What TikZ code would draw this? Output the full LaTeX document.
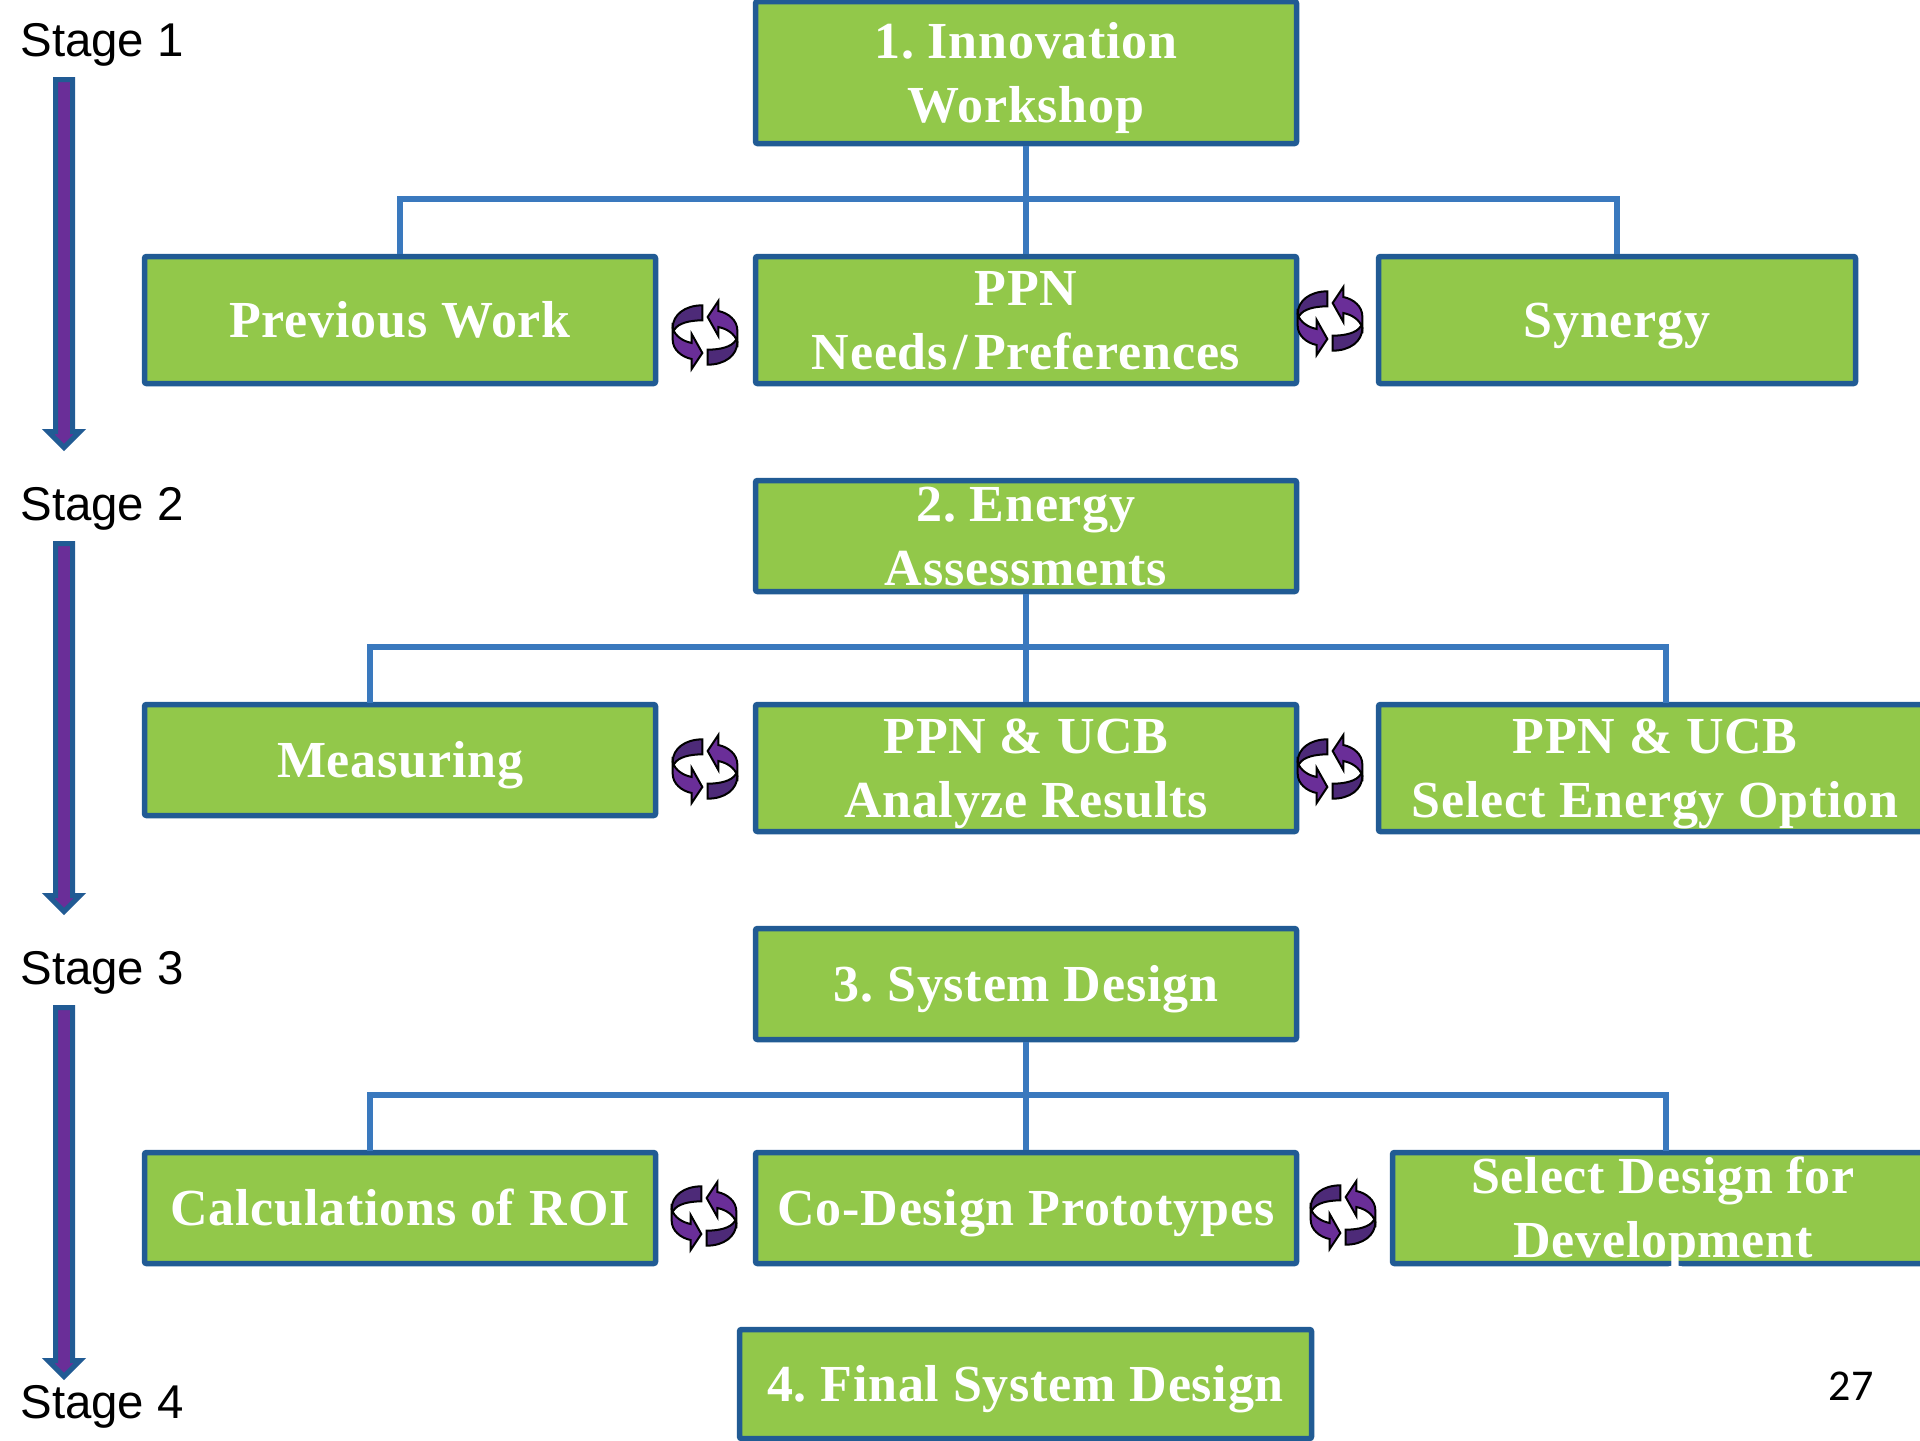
\documentclass[tikz,border=0pt]{standalone}
\usepackage{fontspec}
\setmainfont{Liberation Serif}
\newfontfamily\stagefont{Liberation Sans}
\newfontfamily\numfont{Carlito}
\newfontfamily\boxfont[LetterSpace=1.5]{Liberation Serif}
\definecolor{boxfill}{HTML}{92C84A}
\definecolor{boxline}{HTML}{215B94}
\definecolor{connline}{HTML}{3A79BE}
\definecolor{purpA}{HTML}{6A2E98}
\definecolor{purpB}{HTML}{4D2A78}
\tikzset{
  stagebox/.style={draw=boxline,fill=boxfill,line width=2.75pt,rounded corners=1pt,inner sep=0pt},
  boxtext/.style={inner sep=0pt,align=center,text=white,yshift=-2.5pt,font=\frenchspacing\boxfont\bfseries\fontsize{26}{32}\selectfont},
  conn/.style={draw=connline,line width=3pt},
  stagelabel/.style={anchor=base west,inner sep=0pt,font=\stagefont\fontsize{23.7}{28}\selectfont},
  downarrow/.style={draw=boxline,fill=purpA,line width=2.5pt,line join=miter},
  cycle icon/.pic={
    \begin{scope}[scale=1/3,line width=1pt,draw=black,line join=miter]
      \foreach \r in {0,180}{
        \begin{scope}[rotate=\r]
          \filldraw[fill=purpA] (-97,-21) .. controls (-90,4) and (-65,19) .. (-40,24) -- (-40,-3) -- (-8,54) -- (-40,102) -- (-40,72) .. controls (-70,66) and (-97,44) .. (-97,14) -- cycle;
          \filldraw[fill=purpB] (-8,-89) .. controls (-60,-89) and (-97,-61) .. (-97,-21) -- (-92,-16) .. controls (-80,-36) and (-45,-44) .. (-8,-44) -- cycle;
        \end{scope}
      }
    \end{scope}
  }
}
\newcommand{\stbox}[6]{%
  \node[stagebox,minimum width={(#4-#2-3)*0.5pt},minimum height={(#5-#3-3)*0.5pt}] (#1) at ({(#2+#4)/2},{(#3+#5)/2}) {};
  \node[boxtext] (#1t) at (#1.center) {\strut #6\strut};}
\newcommand{\sarrow}[2]{%
  \draw[downarrow] (55.5,#1) -- (72.5,#1) -- (72.5,#2-19.5) -- (80,#2-19.5) -- (64,#2-3.5) -- (48,#2-19.5) -- (55.5,#2-19.5) -- cycle;}
\begin{document}
\begin{tikzpicture}[x=0.5pt,y=-0.5pt]
\clip (0,0) rectangle (1920,1440);
\useasboundingbox (0,0) rectangle (1920,1440);
\fill[white] (0,0) rectangle (1920,1440);
% connectors
\coordinate (t2l) at (370,703);
\coordinate (t2r) at (1666,703);
\coordinate (t3l) at (370,1151);
\coordinate (t3r) at (1666,1151);
% boxes
\stbox{b1}{754}{0}{1298}{145}{1. Innovation\\Workshop}
\stbox{prev}{143}{255}{657}{385}{Previous Work}
\stbox{needs}{754}{255}{1298}{385}{PPN\\Needs\kern3pt/\kern3pt Preferences}
\stbox{syn}{1377}{255}{1857}{385}{Synergy}
\stbox{b2}{754}{479}{1298}{593}{2. Energy\\Assessments}
\stbox{meas}{143}{703}{657}{817}{Measuring}
\stbox{anal}{754}{703}{1298}{833}{PPN \& UCB\\Analyze Results}
\stbox{opt}{1377}{703}{1933}{833}{PPN \& UCB\\Select Energy Option}
\stbox{b3}{754}{927}{1298}{1041}{3. System Design}
\stbox{calc}{143}{1151}{657}{1265}{Calculations of\kern1pt{} ROI}
\stbox{proto}{754}{1151}{1298}{1265}{Co-Design Prototypes}
\stbox{sel}{1391}{1151}{1935}{1265}{Select Design for\\Development}
\stbox{b4}{738}{1328}{1313}{1440}{4. Final System Design}
\draw[conn] (b1.south) -- (needs.north);
\draw[conn] (b1.south) -- ++(0,53) -| (prev.north);
\draw[conn] (b1.south) -- ++(0,53) -| (syn.north);
\draw[conn] (b2.south) -- (anal.north);
\draw[conn] (b2.south) -- ++(0,53) -| (t2l);
\draw[conn] (b2.south) -- ++(0,53) -| (t2r);
\draw[conn] (b3.south) -- (proto.north);
\draw[conn] (b3.south) -- ++(0,53) -| (t3l);
\draw[conn] (b3.south) -- ++(0,53) -| (t3r);
% stage labels and arrows
\node[stagelabel] (s1) at (20,56) {Stage 1};
\node[stagelabel] (s2) at (20,520) {Stage 2};
\node[stagelabel] (s3) at (20,984) {Stage 3};
\node[stagelabel] (s4) at (20,1418) {Stage 4};
\sarrow{79.5}{451}
\sarrow{543.5}{915}
\sarrow{1007.5}{1380}
% cycle icons
\pic at (705,335) {cycle icon};
\pic at (1330,321) {cycle icon};
\pic at (705,769) {cycle icon};
\pic at (1330,769) {cycle icon};
\pic at (704,1216) {cycle icon};
\pic at (1343,1215) {cycle icon};
% page number
\node[anchor=base,inner sep=0pt,font=\numfont\fontsize{22}{26}\selectfont] (pg) at (1851,1400) {27};
\end{tikzpicture}
\end{document}
